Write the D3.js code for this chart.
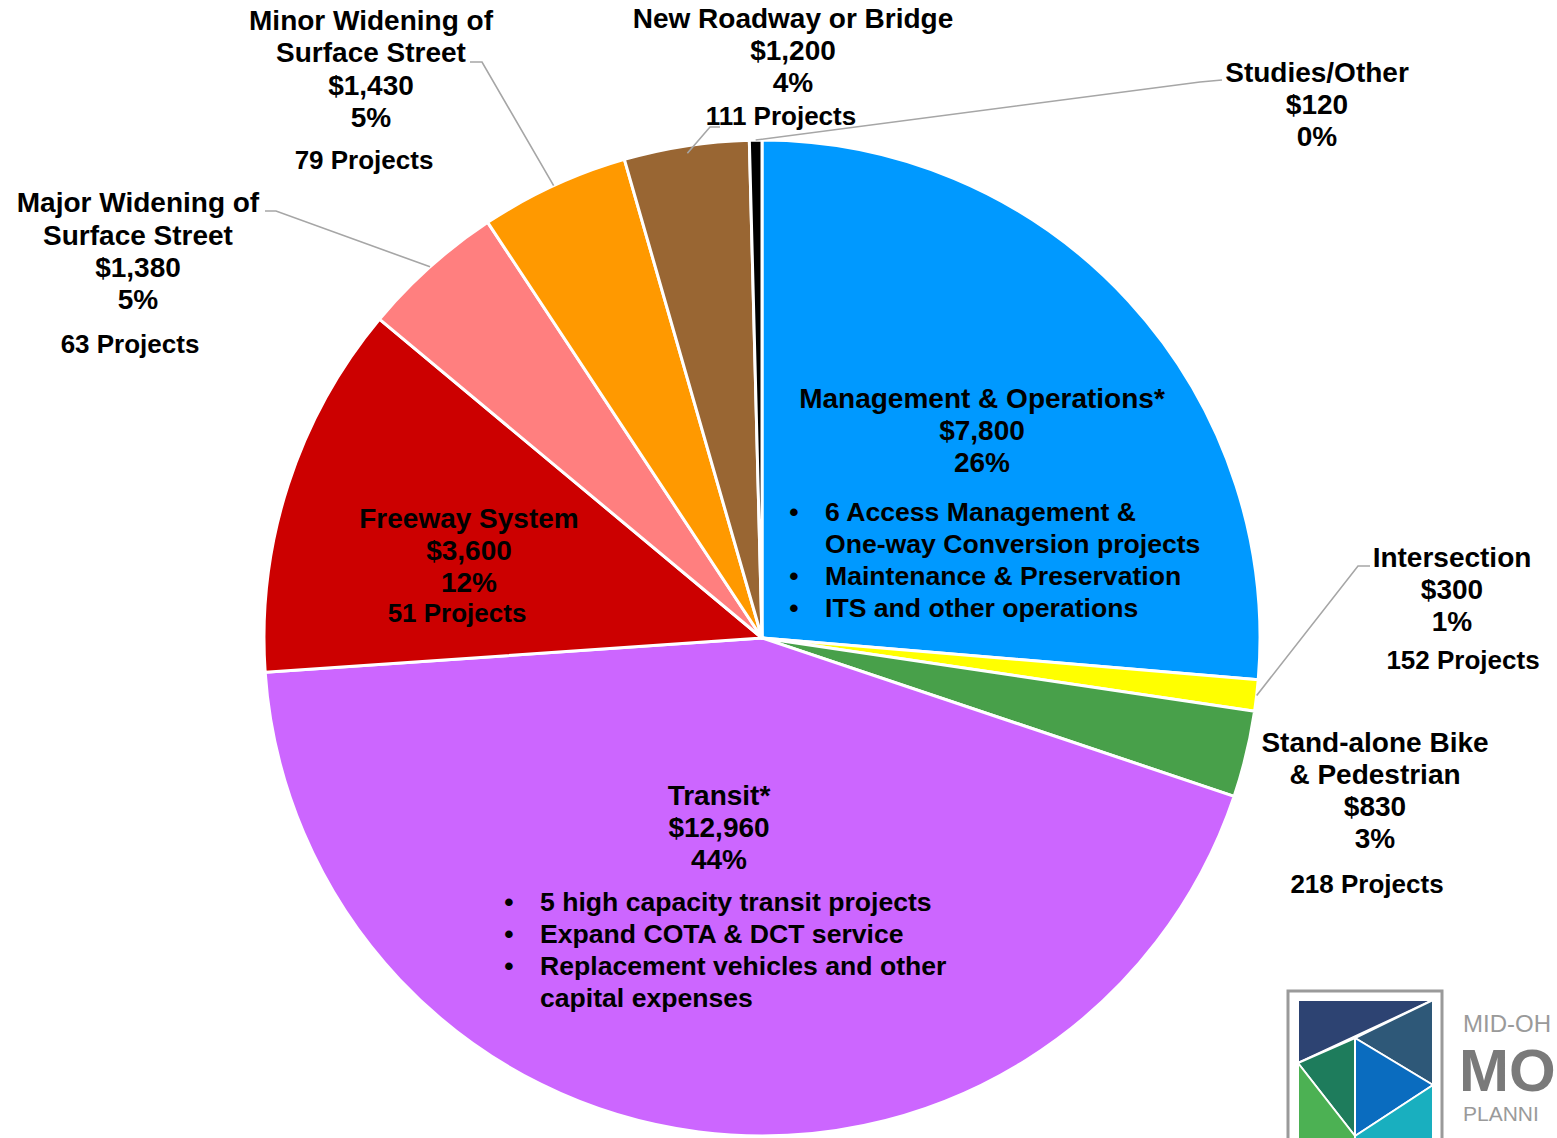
<!DOCTYPE html>
<html>
<head>
<meta charset="utf-8">
<script src="https://cdn.jsdelivr.net/npm/d3@7"></script>
<style>
  html, body { margin: 0; padding: 0; background: #ffffff; }
  svg { display: block; }
  text { font-family: "Liberation Sans", Arial, sans-serif; font-weight: bold; fill: #000; }
</style>
</head>
<body>
<svg id="chart" width="1557" height="1138"></svg>
<script>
// ---- data ----
const categories = [
  "Management & Operations*",
  "Intersection",
  "Stand-alone Bike & Pedestrian",
  "Transit*",
  "Freeway System",
  "Major Widening of Surface Street",
  "Minor Widening of Surface Street",
  "New Roadway or Bridge",
  "Studies/Other"
];
const values = [7800, 300, 830, 12960, 3600, 1380, 1430, 1200, 120];
const percentLabels = ["26%", "1%", "3%", "44%", "12%", "5%", "5%", "4%", "0%"];
const projectCounts = [null, 152, 218, null, 51, 63, 79, 111, null];
const bulletsMO = [
  ["6 Access Management &", "One-way Conversion projects"],
  ["Maintenance & Preservation"],
  ["ITS and other operations"]
];
const bulletsTransit = [
  ["5 high capacity transit projects"],
  ["Expand COTA & DCT service"],
  ["Replacement vehicles and other", "capital expenses"]
];
const colors = ["#0099FF", "#FFFF00", "#48A04A", "#CC66FF", "#CC0000", "#FF7F7F", "#FF9900", "#996633", "#000000"];

// ---- layout ----
const svg = d3.select("#chart");
const cx = 762, cy = 638, R = 498;
const fmt = d3.format("$,");

const pie = d3.pie().sort(null).value(d => d).startAngle(0).endAngle(2 * Math.PI);
const arcs = pie(values);
const arc = d3.arc().innerRadius(0).outerRadius(R);

const g = svg.append("g").attr("transform", `translate(${cx},${cy})`);
g.selectAll("path.slice").data(arcs).enter().append("path")
  .attr("class", "slice")
  .attr("d", arc)
  .attr("fill", (d, i) => colors[i])
  .attr("stroke", "#ffffff")
  .attr("stroke-width", 3)
  .attr("stroke-linejoin", "round");

// leader lines (end point on slice computed from arc geometry)
function edgePoint(i, rFrac) {
  const a = (arcs[i].startAngle + arcs[i].endAngle) / 2;
  return [cx + R * rFrac * Math.sin(a), cy - R * rFrac * Math.cos(a)];
}
const leaders = [
  { i: 1, pts: [[1370, 566], [1358, 566]] },
  { i: 5, pts: [[265, 211], [276, 211]] },
  { i: 6, pts: [[470, 62], [482, 62]] },
  { i: 7, pts: [[720, 127], [710, 127]] },
  { i: 8, pts: [[1222, 80], [1200, 82]] }
];
const line = d3.line();
leaders.forEach(l => {
  const p = edgePoint(l.i, l.i === 7 ? 0.985 : 1.0);
  svg.append("path")
    .attr("d", line(l.pts.concat([p])))
    .attr("fill", "none")
    .attr("stroke", "#A6A6A6")
    .attr("stroke-width", 1.6);
});

const FS = 28, FS2 = 26, FS3 = 26.6;
function label(x, ys, lines, fs) {
  lines.forEach((t, k) => {
    svg.append("text")
      .attr("x", x).attr("y", ys[k])
      .attr("text-anchor", "middle")
      .attr("dominant-baseline", "central")
      .attr("font-size", fs || FS)
      .text(t);
  });
}
function proj(x, y, i) { label(x, [y], [projectCounts[i] + " Projects"], FS2); }

// M&O
label(982, [398, 430, 462], [categories[0], fmt(values[0]), percentLabels[0]]);
// Intersection
label(1452, [557, 589, 621], [categories[1], fmt(values[1]), percentLabels[1]]);
proj(1463, 660, 1);
// Bike & Ped
label(1375, [742, 774, 806, 838], ["Stand-alone Bike", "& Pedestrian", fmt(values[2]), percentLabels[2]]);
proj(1367, 884, 2);
// Transit
label(719, [795, 827, 859], [categories[3], fmt(values[3]), percentLabels[3]]);
// Freeway
label(469, [518, 550, 582], [categories[4], fmt(values[4]), percentLabels[4]]);
proj(457, 613, 4);
// Major
label(138, [202, 235, 267, 299], ["Major Widening of", "Surface Street", fmt(values[5]), percentLabels[5]]);
proj(130, 344, 5);
// Minor
label(371, [20, 52, 85, 117], ["Minor Widening of", "Surface Street", fmt(values[6]), percentLabels[6]]);
proj(364, 160, 6);
// New Roadway
label(793, [18, 50, 82], [categories[7], fmt(values[7]), percentLabels[7]]);
proj(781, 116, 7);
// Studies
label(1317, [72, 104, 136], [categories[8], fmt(values[8]), percentLabels[8]]);

// bullets
function bullets(bx, tx, y0, items) {
  let y = y0;
  items.forEach(item => {
    svg.append("text").attr("x", bx).attr("y", y).attr("text-anchor", "middle")
      .attr("dominant-baseline", "central").attr("font-size", FS3).text("\u2022");
    item.forEach(t => {
      svg.append("text").attr("x", tx).attr("y", y)
        .attr("dominant-baseline", "central").attr("font-size", FS3).text(t);
      y += 32;
    });
  });
}
bullets(794, 825, 512, bulletsMO);
bullets(509, 540, 902, bulletsTransit);

// ---- logo ----
const logo = svg.append("g");
logo.append("rect").attr("x", 1288).attr("y", 991).attr("width", 154).attr("height", 160)
  .attr("fill", "#fff").attr("stroke", "#9A9A9A").attr("stroke-width", 3);
const L = 1298, Rr = 1433, T = 1000, Bt = 1140;
const A = [L, 1063], B = [1355, 1038], C = [Rr, 1085], D = [1355, 1136];
const polys = [
  { p: [[L, T], [Rr, T], A], c: "#2D4372" },
  { p: [B, [Rr, T], C], c: "#2E5878" },
  { p: [A, B, D], c: "#1E7C5C" },
  { p: [A, D, [1355, Bt], [L, Bt]], c: "#4CB153" },
  { p: [B, C, D], c: "#0A6CBF" },
  { p: [C, [Rr, Bt], [1355, Bt], D], c: "#19AFBF" }
];
polys.forEach(q => {
  logo.append("path").attr("d", line(q.p) + "Z").attr("fill", q.c)
    .attr("stroke", "#fff").attr("stroke-width", 2).attr("stroke-linejoin", "round");
});
logo.append("text").attr("x", 1463).attr("y", 1032).attr("font-size", 24)
  .style("font-weight", "normal").style("fill", "#9A9A9A").text("MID-OH");
logo.append("text").attr("x", 1459).attr("y", 1091).attr("font-size", 60)
  .style("fill", "#7A7A7A").text("MO");
logo.append("text").attr("x", 1463).attr("y", 1121).attr("font-size", 21)
  .style("font-weight", "normal").style("fill", "#9A9A9A").text("PLANNI");
</script>
</body>
</html>
